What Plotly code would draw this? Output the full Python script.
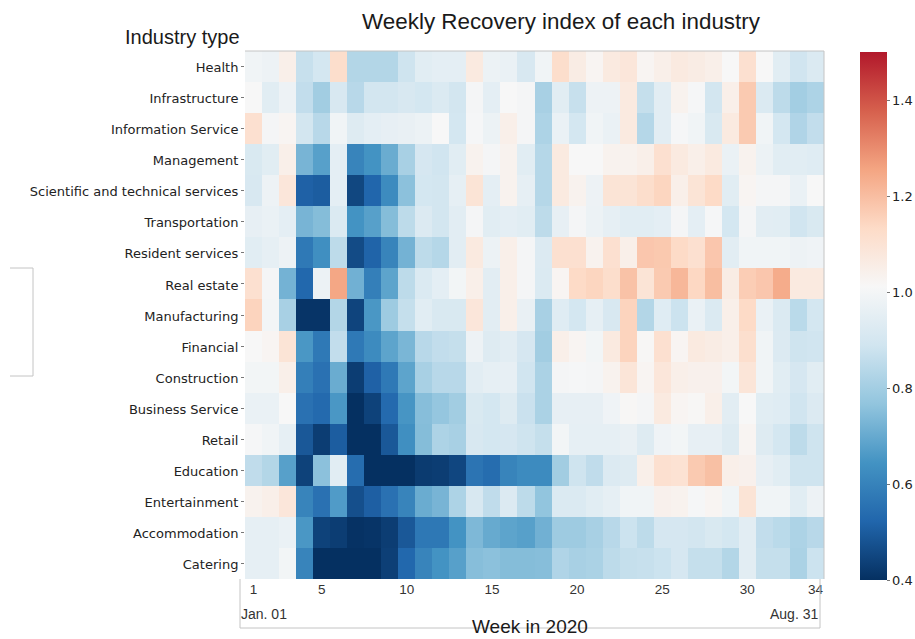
import plotly.graph_objects as go

industries = ["Health", "Infrastructure", "Information Service", "Management",
              "Scientific and technical services", "Transportation", "Resident services",
              "Real estate", "Manufacturing", "Financial", "Construction", "Business Service",
              "Retail", "Education", "Entertainment", "Accommodation", "Catering"]
weeks = list(range(1, 35))
week_ticks = [1, 5, 10, 15, 20, 25, 30, 34]
cbar_ticks = [0.4, 0.6, 0.8, 1.0, 1.2, 1.4]

health = [.99,.98,1.048,.87,.90,1.12,.83,.83,.83,.885,.94,.95,.95,1.07,.975,.97,.91,.99,1.12,1.06,1.023,1.07,1.084,1.023,1.048,1.07,1.06,1.048,1.011,1.11,1.011,.94,.89,.92]
infrastructure = [1.011,.94,.98,.86,.797,.91,.84,.895,.895,.91,.90,.92,.895,1.0,.95,1.011,1.0,.81,.94,.87,.98,.98,1.07,.865,.945,1.035,1.005,.895,1.048,1.172,.92,.85,.80,.82]
information = [1.11,1.0,1.023,.895,.84,.99,.93,.95,.96,.965,.975,1.011,.90,1.005,.975,1.048,1.0,.82,.97,.90,.99,.97,1.07,.835,.945,1.005,.99,.915,1.07,1.172,.99,.90,.825,.86]
management = [.915,.94,1.048,.726,.675,.95,.604,.644,.705,.81,.905,.89,.94,1.035,1.0,1.035,.94,.835,1.07,1.011,1.011,1.035,1.035,1.048,1.11,1.07,1.048,1.07,.97,1.035,.975,.94,.94,.935]
scientific = [.91,.98,1.084,.512,.502,.95,.451,.522,.624,.757,.90,.895,.955,1.096,.95,1.035,.955,.835,1.07,1.035,.98,1.096,1.096,1.12,1.145,1.048,1.096,1.133,.94,1.023,1.0,1.0,.97,1.011]
transportation = [.96,.97,.95,.726,.746,.92,.644,.675,.746,.85,.925,.895,.945,1.0,.94,.95,.94,.85,.96,1.0,.975,.955,.94,.94,.95,1.0,.95,1.005,.90,1.0,.945,.94,.89,.915]
resident = [.94,.955,.98,.573,.634,.85,.46,.517,.604,.72,.85,.835,.945,1.07,.975,1.048,1.0,.925,1.11,1.11,1.035,1.11,1.048,1.18,1.175,1.133,1.11,1.18,.945,.99,.99,.99,.98,.985]
real_estate = [1.11,1.0,.72,.527,.975,1.25,.715,.59,.685,.85,.92,.95,.995,1.048,.945,1.048,1.0,.92,1.023,1.133,1.145,1.12,1.19,1.096,1.172,1.215,1.14,1.20,1.06,1.165,1.18,1.24,1.07,1.07]
manufacturing = [1.15,.995,.81,.41,.41,.83,.445,.655,.79,.865,.94,.915,.915,1.084,.945,1.048,.965,.81,.935,.90,.955,.91,1.15,.83,.935,.88,.97,.92,1.048,1.133,.97,.92,.845,.90]
financial = [1.011,1.023,1.096,.655,.573,.86,.573,.624,.685,.73,.84,.86,.865,.98,.93,.945,.905,.797,1.048,1.023,.995,1.07,1.15,1.017,1.11,1.023,1.07,1.06,1.048,1.115,.99,.925,.885,.89]
construction = [.995,.995,1.048,.59,.553,.705,.43,.512,.573,.685,.81,.84,.84,.945,.955,.96,.89,.815,1.0,1.005,1.0,1.035,1.09,1.023,1.084,1.048,1.04,1.04,.995,1.09,.99,.94,.905,.94]
business = [.97,.97,1.011,.553,.532,.655,.40,.44,.532,.65,.75,.772,.797,.915,.90,.93,.875,.815,.96,.96,.96,.985,1.017,1.0,1.07,1.023,1.017,1.048,.945,1.011,.94,.935,.89,.925]
retail = [1.005,.99,.955,.49,.43,.502,.40,.40,.49,.634,.746,.82,.81,.91,.90,.905,.885,.865,.995,.955,.955,.955,.965,.93,.985,.995,.96,.96,.93,1.023,.93,.90,.85,.885]
education = [.855,.83,.675,.44,.757,.94,.54,.40,.40,.40,.425,.43,.45,.56,.54,.604,.624,.624,.797,.885,.855,.925,.93,1.048,1.11,1.104,1.172,1.195,1.048,1.04,.96,.94,.885,.885]
entertainment = [1.035,1.048,1.084,.604,.553,.665,.47,.507,.553,.604,.705,.726,.82,.91,.855,.925,.85,.767,.92,.92,.94,.955,.99,.99,1.04,1.035,1.005,1.023,.99,1.096,.99,.99,.94,.98]
accommodation = [.955,.955,.97,.655,.44,.43,.405,.41,.43,.49,.57,.57,.644,.735,.70,.685,.675,.715,.79,.79,.81,.84,.88,.85,.905,.905,.895,.915,.90,.945,.86,.845,.82,.84]
catering = [.955,.955,.995,.604,.40,.40,.40,.40,.435,.527,.604,.644,.675,.75,.757,.746,.746,.75,.825,.81,.815,.85,.865,.87,.88,.905,.865,.865,.83,.945,.865,.865,.815,.88]

rows = [health, infrastructure, information, management, scientific, transportation, resident,
        real_estate, manufacturing, financial, construction, business, retail, education,
        entertainment, accommodation, catering]

palette = ["#053061", "#2166ac", "#4393c3", "#92c5de", "#d1e5f0",
           "#f7f7f7", "#fddbc7", "#f4a582", "#d6604d", "#b2182b"]
colorscale = [[i / (len(palette) - 1), c] for i, c in enumerate(palette)]

W, H = 915, 639
L, R, T, B = 245, 824, 51, 579
def px(x): return (x - L) / (R - L)
def py(y): return (B - y) / (B - T)

line = dict(color="#c4c4c4", width=1)
def seg(x0, y0, x1, y1):
    return dict(type="line", xref="paper", yref="paper", x0=px(x0), y0=py(y0), x1=px(x1), y1=py(y1), line=line)

fig = go.Figure(go.Heatmap(
    z=rows, x=weeks, y=industries, colorscale=colorscale, zmin=0.4, zmax=1.5,
    colorbar=dict(
        thickness=27, thicknessmode="pixels", len=1, lenmode="fraction", y=py(580), yanchor="bottom",
        ypad=0, xpad=0, x=px(860), xanchor="left", tickvals=cbar_ticks,
        ticktext=["0.4", "0.6", "0.8", "1.0", "1.2", "1.4"], ticks="outside", ticklen=3, tickwidth=1,
        tickcolor="#777777", outlinewidth=0,
        tickfont=dict(family="DejaVu Sans", size=13, color="#222222"))))

fig.update_layout(
    width=W, height=H, margin=dict(l=L, r=W - R, t=T, b=H - B, pad=0, autoexpand=False),
    paper_bgcolor="white", plot_bgcolor="white",
    title=dict(text="Weekly Recovery index of each industry", x=561 / W, xref="container",
               xanchor="center", y=1 - 21 / H, yanchor="middle",
               font=dict(family="Liberation Sans", size=22.4, color="#1a1a1a")),
    xaxis=dict(tickvals=week_ticks, ticks="", ticklabelstandoff=0,
               showgrid=False, zeroline=False, showline=False, automargin=False,
               tickfont=dict(family="Liberation Sans", size=13.5, color="#333333"), range=[0.5, 34.5]),
    yaxis=dict(autorange="reversed", ticks="outside", ticklen=3, tickwidth=1, tickcolor="#777777",
               ticklabelshift=-1, showgrid=False, zeroline=False, showline=False, automargin=False,
               tickfont=dict(family="DejaVu Sans", size=13, color="#222222")),
    shapes=[seg(L, T, R, T), seg(R, T, R, B),
            seg(240, B, 240, 628), seg(240, 628, 820, 628), seg(820, B, 820, 628),
            seg(10, 268, 33, 268), seg(33, 268, 33, 376), seg(10, 376, 33, 376)],
    annotations=[
        dict(text="Industry type", xref="paper", yref="paper", x=px(242), y=py(37), xanchor="right", yanchor="middle",
             showarrow=False, font=dict(family="Liberation Sans", size=20, color="#1a1a1a")),
        dict(text="Jan. 01", xref="paper", yref="paper", x=px(239), y=py(614), xanchor="left", yanchor="middle",
             showarrow=False, font=dict(family="Liberation Sans", size=14, color="#333333")),
        dict(text="Aug. 31", xref="paper", yref="paper", x=px(820), y=py(614), xanchor="right", yanchor="middle",
             showarrow=False, font=dict(family="Liberation Sans", size=14, color="#333333")),
        dict(text="Week in 2020", xref="paper", yref="paper", x=px(530), y=py(626), xanchor="center", yanchor="middle",
             showarrow=False, font=dict(family="Liberation Sans", size=19, color="#1a1a1a")),
    ])

fig.write_html("out.html", config=dict(displayModeBar=False),
               post_script="document.body.style.margin='0';document.documentElement.style.overflow='hidden';")
